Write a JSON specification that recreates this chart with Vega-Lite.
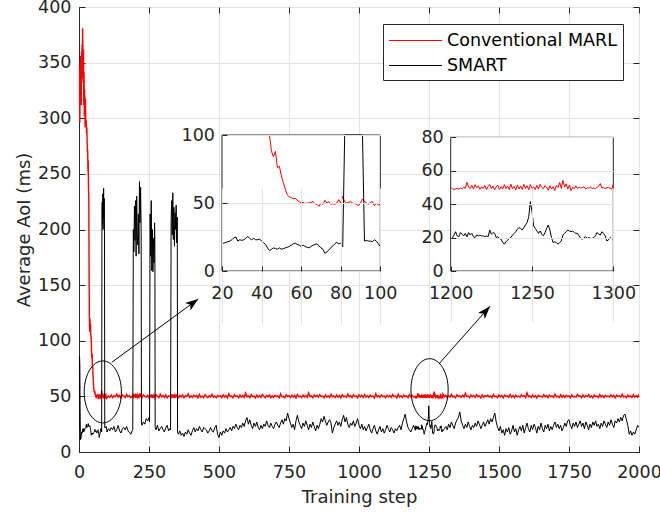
{
"$schema": "https://vega.github.io/schema/vega-lite/v6.json",
"width": 560, "height": 445,
"autosize": {"type": "none"},
"padding": {"left": 79, "top": 7, "right": 21, "bottom": 61},
"background": "white",
"config": {
  "font": "DejaVu Sans",
  "view": {"stroke": "#262626", "strokeWidth": 1},
  "axis": {"labelFont": "DejaVu Sans", "labelFontSize": 17.5, "labelColor": "#262626", "titleFont": "DejaVu Sans", "titleFontSize": 18, "titleFontWeight": "normal", "titleColor": "#262626", "domainColor": "#262626", "tickColor": "#262626", "gridColor": "#e3e3e3", "labelFlush": false, "labelOverlap": false, "labelBound": false, "tickSize": -6, "domainWidth": 1, "tickWidth": 1, "format": "d"}
},
"datasets": {"d": [
{"t":0,"r":300,"b":20},{"t":1,"r":330,"b":60},{"t":2,"r":345,"b":86},{"t":3,"r":296,"b":78},{"t":4,"r":350,"b":40},{"t":5,"r":322,"b":11},{"t":6,"r":356,"b":13},{"t":7,"r":340,"b":12},{"t":8,"r":312,"b":16},{"t":9,"r":360,"b":15},
{"t":10,"r":336,"b":18},{"t":11,"r":366,"b":17},{"t":12,"r":348,"b":19},{"t":13,"r":381,"b":18},{"t":14,"r":352,"b":21},{"t":15,"r":332,"b":19},{"t":16,"r":362,"b":20},{"t":17,"r":312,"b":18},{"t":18,"r":342,"b":21},{"t":19,"r":302,"b":19},
{"t":20,"r":326,"b":20},{"t":21,"r":310,"b":20.5},{"t":22,"r":292,"b":21},{"t":23,"r":318,"b":21.5},{"t":24,"r":300,"b":22},{"t":25,"r":296,"b":23},{"t":26,"r":298,"b":24.5},{"t":27,"r":286,"b":25},{"t":28,"r":292,"b":22},{"t":29,"r":280,"b":23},
{"t":30,"r":270,"b":22.5},{"t":31,"r":272,"b":23},{"t":32,"r":252,"b":24},{"t":33,"r":262,"b":25.5},{"t":34,"r":236,"b":24},{"t":35,"r":230,"b":23},{"t":36,"r":160,"b":24},{"t":37,"r":122,"b":23},{"t":38,"r":108,"b":23},{"t":39,"r":120,"b":23.5},
{"t":40,"r":112,"b":22},{"t":41,"r":115,"b":21},{"t":42,"r":106,"b":19.5},{"t":43,"r":103,"b":17},{"t":44,"r":100,"b":15},{"t":45,"r":88,"b":16},{"t":46,"r":84,"b":17},{"t":47,"r":88,"b":16.5},{"t":48,"r":76,"b":16},{"t":49,"r":77,"b":17},
{"t":50,"r":70,"b":16},{"t":51,"r":65,"b":16.5},{"t":52,"r":60,"b":17},{"t":53,"r":56,"b":17.5},{"t":54,"r":54.5,"b":18},{"t":55,"r":54,"b":19},{"t":56,"r":53,"b":20},{"t":57,"r":53.5,"b":20.5},{"t":58,"r":52,"b":19.5},{"t":59,"r":51,"b":19},
{"t":60,"r":50,"b":18},{"t":61,"r":50.5,"b":19},{"t":62,"r":49.5,"b":18},{"t":63,"r":50,"b":17.5},{"t":64,"r":50,"b":17},{"t":65,"r":50.5,"b":18},{"t":66,"r":51,"b":19},{"t":67,"r":49.5,"b":19.5},{"t":68,"r":49,"b":20},{"t":69,"r":47.5,"b":18.5},
{"t":70,"r":50,"b":17},{"t":71,"r":49,"b":16},{"t":72,"r":52,"b":13},{"t":73,"r":50,"b":14},{"t":74,"r":51,"b":15.5},{"t":75,"r":49,"b":17},{"t":76,"r":49.5,"b":18.5},{"t":77,"r":49,"b":20},{"t":78,"r":50,"b":21},{"t":79,"r":52.5,"b":20},
{"t":80,"r":50,"b":20.5},{"t":81,"r":55,"b":18},{"t":82,"r":51,"b":215},{"t":83,"r":50,"b":225},{"t":84,"r":50.5,"b":205},{"t":85,"r":51,"b":232},{"t":86,"r":50,"b":200},{"t":87,"r":49.5,"b":222},{"t":88,"r":49,"b":237},{"t":89,"r":48,"b":210},
{"t":90,"r":50,"b":228},{"t":91,"r":53,"b":205},{"t":92,"r":51,"b":22},{"t":93,"r":50,"b":22.5},{"t":94,"r":49,"b":22},{"t":95,"r":50.5,"b":22},{"t":96,"r":51,"b":21.5},{"t":97,"r":48,"b":23},{"t":98,"r":50,"b":22},{"t":99,"r":48.5,"b":20},
{"t":100,"r":49,"b":18},
{"t":105,"r":50.4,"b":21},{"t":110,"r":49.1,"b":19},{"t":115,"r":51.2,"b":22},{"t":120,"r":48.8,"b":20},{"t":125,"r":50.6,"b":23},{"t":130,"r":49.7,"b":18},{"t":135,"r":52.1,"b":20},{"t":140,"r":49.3,"b":24},{"t":145,"r":50.9,"b":19},{"t":150,"r":48.6,"b":17},
{"t":155,"r":51.4,"b":21},{"t":160,"r":50.2,"b":22},{"t":165,"r":49.0,"b":20},{"t":170,"r":51.8,"b":23},{"t":175,"r":49.5,"b":19},{"t":180,"r":50.7,"b":18},{"t":185,"r":48.9,"b":16},{"t":190,"r":50.3,"b":19},{"t":192,"r":49.8,"b":20},
{"t":194,"r":51.1,"b":200},{"t":196,"r":49.4,"b":180},{"t":198,"r":50.8,"b":221},{"t":200,"r":49.9,"b":190},{"t":202,"r":52.4,"b":226},{"t":204,"r":48.8,"b":176},{"t":206,"r":50.5,"b":230},{"t":208,"r":49.2,"b":195},{"t":210,"r":51.6,"b":186},{"t":212,"r":50.1,"b":214},
{"t":214,"r":48.5,"b":178},{"t":216,"r":51.0,"b":243},{"t":218,"r":49.6,"b":206},{"t":220,"r":52.8,"b":238},{"t":222,"r":49.3,"b":198},{"t":223,"r":50.6,"b":26},{"t":225,"r":48.9,"b":24},{"t":230,"r":51.3,"b":27},{"t":235,"r":50.0,"b":25},{"t":240,"r":49.4,"b":30},
{"t":245,"r":50.9,"b":28},{"t":250,"r":48.7,"b":31},{"t":252,"r":51.5,"b":27},{"t":254,"r":49.8,"b":214},{"t":256,"r":50.4,"b":176},{"t":258,"r":48.9,"b":226},{"t":260,"r":51.7,"b":163},{"t":262,"r":49.6,"b":200},{"t":264,"r":50.2,"b":162},{"t":266,"r":48.6,"b":192},
{"t":268,"r":51.1,"b":170},{"t":270,"r":49.9,"b":206},{"t":271,"r":50.5,"b":186},{"t":272,"r":49.2,"b":22},{"t":275,"r":51.4,"b":20},{"t":280,"r":50.1,"b":24},{"t":285,"r":48.8,"b":19},{"t":290,"r":52.0,"b":21},{"t":295,"r":49.5,"b":23},{"t":300,"r":50.7,"b":20},
{"t":305,"r":49.0,"b":18},{"t":310,"r":51.2,"b":22},{"t":315,"r":48.7,"b":24},{"t":320,"r":50.5,"b":19},{"t":325,"r":49.8,"b":21},{"t":327,"r":51.0,"b":20},{"t":329,"r":49.3,"b":208},{"t":331,"r":50.6,"b":226},{"t":333,"r":48.9,"b":195},{"t":335,"r":51.9,"b":233},
{"t":337,"r":49.7,"b":191},{"t":339,"r":50.3,"b":220},{"t":341,"r":48.6,"b":185},{"t":343,"r":51.2,"b":215},{"t":345,"r":49.9,"b":200},{"t":347,"r":50.8,"b":222},{"t":349,"r":49.1,"b":188},{"t":351,"r":51.5,"b":211},{"t":352,"r":50.2,"b":18},{"t":355,"r":48.8,"b":16},
{"t":360,"r":50.9,"b":19},{"t":365,"r":49.4,"b":15},{"t":370,"r":51.3,"b":17},{"t":375,"r":48.7,"b":14},{"t":380,"r":50.6,"b":18},{"t":385,"r":49.9,"b":16},{"t":390,"r":52.2,"b":20},{"t":395,"r":49.0,"b":17},{"t":400,"r":50.5,"b":15},{"t":405,"r":48.9,"b":19},
{"t":410,"r":51.1,"b":22},{"t":415,"r":49.6,"b":18},{"t":420,"r":50.8,"b":21},{"t":425,"r":48.6,"b":19},{"t":430,"r":51.7,"b":23},{"t":435,"r":49.3,"b":20},{"t":440,"r":50.2,"b":18},{"t":445,"r":49.0,"b":22},{"t":450,"r":51.5,"b":21},{"t":455,"r":50.1,"b":20},
{"t":460,"r":48.8,"b":17},{"t":465,"r":50.7,"b":19},{"t":470,"r":49.5,"b":22},{"t":475,"r":51.9,"b":19},{"t":480,"r":49.2,"b":18},{"t":485,"r":50.4,"b":22},{"t":490,"r":48.7,"b":24},{"t":495,"r":51.0,"b":16},{"t":500,"r":49.8,"b":13},{"t":505,"r":50.6,"b":18},
{"t":510,"r":48.9,"b":15},{"t":515,"r":51.3,"b":19},{"t":520,"r":49.4,"b":17},{"t":525,"r":50.9,"b":21},{"t":530,"r":48.6,"b":18},{"t":535,"r":52.5,"b":20},{"t":540,"r":49.7,"b":22},{"t":545,"r":50.2,"b":19},{"t":550,"r":48.8,"b":23},{"t":555,"r":51.4,"b":21},
{"t":560,"r":49.9,"b":25},{"t":565,"r":50.5,"b":22},{"t":570,"r":48.7,"b":20},{"t":575,"r":51.1,"b":24},{"t":580,"r":49.3,"b":22},{"t":585,"r":50.8,"b":26},{"t":590,"r":49.0,"b":23},{"t":595,"r":53.0,"b":28},{"t":600,"r":49.6,"b":31},{"t":605,"r":50.4,"b":25},
{"t":610,"r":48.9,"b":29},{"t":615,"r":51.6,"b":24},{"t":620,"r":49.8,"b":21},{"t":625,"r":50.3,"b":26},{"t":630,"r":48.6,"b":23},{"t":635,"r":51.2,"b":27},{"t":640,"r":49.4,"b":22},{"t":645,"r":50.7,"b":20},{"t":650,"r":49.1,"b":24},{"t":655,"r":51.8,"b":21},
{"t":660,"r":50.0,"b":25},{"t":665,"r":48.8,"b":23},{"t":670,"r":50.9,"b":28},{"t":675,"r":49.5,"b":24},{"t":680,"r":51.3,"b":22},{"t":685,"r":48.9,"b":26},{"t":690,"r":50.6,"b":23},{"t":695,"r":49.2,"b":21},{"t":700,"r":51.0,"b":25},{"t":705,"r":49.7,"b":27},
{"t":710,"r":50.4,"b":24},{"t":715,"r":48.7,"b":22},{"t":720,"r":52.3,"b":26},{"t":725,"r":49.6,"b":29},{"t":730,"r":50.1,"b":25},{"t":735,"r":48.8,"b":30},{"t":740,"r":51.4,"b":28},{"t":745,"r":49.9,"b":35},{"t":750,"r":50.6,"b":30},{"t":755,"r":49.0,"b":26},
{"t":760,"r":51.1,"b":22},{"t":765,"r":49.4,"b":25},{"t":770,"r":50.8,"b":20},{"t":775,"r":48.6,"b":28},{"t":780,"r":51.7,"b":33},{"t":785,"r":49.8,"b":27},{"t":790,"r":50.3,"b":24},{"t":795,"r":48.9,"b":21},{"t":800,"r":51.2,"b":26},{"t":805,"r":49.5,"b":23},
{"t":810,"r":50.7,"b":28},{"t":815,"r":49.1,"b":24},{"t":820,"r":53.1,"b":20},{"t":825,"r":49.7,"b":25},{"t":830,"r":50.4,"b":22},{"t":835,"r":48.8,"b":27},{"t":840,"r":51.0,"b":23},{"t":845,"r":49.6,"b":19},{"t":850,"r":50.9,"b":24},{"t":855,"r":49.2,"b":21},
{"t":860,"r":51.5,"b":25},{"t":865,"r":49.9,"b":30},{"t":870,"r":50.2,"b":27},{"t":875,"r":48.7,"b":32},{"t":880,"r":51.3,"b":28},{"t":885,"r":49.4,"b":24},{"t":890,"r":50.6,"b":27},{"t":895,"r":49.0,"b":29},{"t":900,"r":51.8,"b":26},{"t":905,"r":49.7,"b":17},
{"t":910,"r":50.5,"b":22},{"t":915,"r":48.9,"b":25},{"t":920,"r":51.1,"b":28},{"t":925,"r":49.3,"b":24},{"t":930,"r":50.8,"b":27},{"t":935,"r":48.6,"b":23},{"t":940,"r":51.6,"b":29},{"t":945,"r":49.8,"b":33},{"t":950,"r":50.3,"b":27},{"t":955,"r":49.1,"b":31},
{"t":960,"r":52.0,"b":25},{"t":965,"r":49.5,"b":22},{"t":970,"r":50.7,"b":26},{"t":975,"r":48.8,"b":24},{"t":980,"r":51.2,"b":28},{"t":985,"r":49.9,"b":23},{"t":990,"r":50.4,"b":26},{"t":995,"r":48.7,"b":30},{"t":1000,"r":51.4,"b":24},{"t":1005,"r":49.6,"b":21},
{"t":1010,"r":50.9,"b":25},{"t":1015,"r":49.0,"b":20},{"t":1020,"r":51.7,"b":23},{"t":1025,"r":49.3,"b":19},{"t":1030,"r":50.6,"b":22},{"t":1035,"r":48.9,"b":25},{"t":1040,"r":51.0,"b":20},{"t":1045,"r":49.7,"b":17},{"t":1050,"r":50.2,"b":21},{"t":1055,"r":48.6,"b":24},
{"t":1060,"r":52.6,"b":19},{"t":1065,"r":49.4,"b":16},{"t":1070,"r":50.8,"b":20},{"t":1075,"r":49.1,"b":23},{"t":1080,"r":51.3,"b":18},{"t":1085,"r":49.8,"b":21},{"t":1090,"r":50.5,"b":17},{"t":1095,"r":48.8,"b":20},{"t":1100,"r":51.1,"b":24},{"t":1105,"r":49.5,"b":21},
{"t":1110,"r":50.7,"b":18},{"t":1115,"r":49.2,"b":22},{"t":1120,"r":51.6,"b":20},{"t":1125,"r":49.9,"b":17},{"t":1130,"r":50.3,"b":21},{"t":1135,"r":48.7,"b":19},{"t":1140,"r":51.9,"b":22},{"t":1145,"r":49.4,"b":24},{"t":1150,"r":50.6,"b":20},{"t":1155,"r":49.0,"b":26},
{"t":1160,"r":51.2,"b":30},{"t":1165,"r":49.7,"b":34},{"t":1170,"r":50.4,"b":27},{"t":1175,"r":48.9,"b":22},{"t":1180,"r":51.5,"b":20},{"t":1185,"r":49.6,"b":18},{"t":1190,"r":50.8,"b":21},{"t":1195,"r":49.3,"b":24},
{"t":1200,"r":50.0,"b":20.5},{"t":1201,"r":49.2,"b":19.5},{"t":1202,"r":48.8,"b":21.5},{"t":1203,"r":49.1,"b":23.5},{"t":1204,"r":49.4,"b":21},{"t":1205,"r":49.0,"b":20.5},{"t":1206,"r":49.6,"b":23},{"t":1207,"r":49.3,"b":22},{"t":1208,"r":50.1,"b":21},{"t":1209,"r":49.5,"b":22.5},
{"t":1210,"r":53.0,"b":20.5},{"t":1211,"r":50.2,"b":23},{"t":1212,"r":49.4,"b":21.5},{"t":1213,"r":51.3,"b":22.5},{"t":1214,"r":49.1,"b":20.5},{"t":1215,"r":51.6,"b":20},{"t":1216,"r":49.8,"b":21.5},{"t":1217,"r":51.0,"b":21},{"t":1218,"r":48.9,"b":21.5},{"t":1219,"r":50.4,"b":21},
{"t":1220,"r":49.3,"b":21},{"t":1221,"r":51.2,"b":20.5},{"t":1222,"r":48.7,"b":21},{"t":1223,"r":50.6,"b":20.5},{"t":1224,"r":51.8,"b":24.5},{"t":1225,"r":49.2,"b":22},{"t":1226,"r":50.9,"b":23},{"t":1227,"r":48.6,"b":22.5},{"t":1228,"r":50.3,"b":20},{"t":1229,"r":51.4,"b":20.5},
{"t":1230,"r":48.8,"b":19.5},{"t":1231,"r":50.5,"b":19},{"t":1232,"r":49.0,"b":17},{"t":1233,"r":51.7,"b":16},{"t":1234,"r":49.3,"b":17.5},{"t":1235,"r":50.8,"b":18.5},{"t":1236,"r":48.7,"b":19.5},{"t":1237,"r":51.9,"b":20},{"t":1238,"r":49.2,"b":21.5},{"t":1239,"r":50.6,"b":22.5},
{"t":1240,"r":48.5,"b":23.5},{"t":1241,"r":51.5,"b":25},{"t":1242,"r":49.0,"b":26},{"t":1243,"r":50.9,"b":25.5},{"t":1244,"r":48.8,"b":24.5},{"t":1245,"r":51.8,"b":26},{"t":1246,"r":49.3,"b":27.5},{"t":1247,"r":51.0,"b":29},{"t":1248,"r":48.6,"b":32.5},{"t":1249,"r":51.7,"b":41.5},
{"t":1250,"r":49.4,"b":35.5},{"t":1251,"r":50.3,"b":27},{"t":1252,"r":48.7,"b":25.5},{"t":1253,"r":51.2,"b":24},{"t":1254,"r":49.0,"b":22.5},{"t":1255,"r":51.9,"b":24},{"t":1256,"r":50.1,"b":22},{"t":1257,"r":49.2,"b":21},{"t":1258,"r":51.1,"b":23},{"t":1259,"r":50.2,"b":25.5},
{"t":1260,"r":48.3,"b":27.5},{"t":1261,"r":51.0,"b":24.5},{"t":1262,"r":49.1,"b":20},{"t":1263,"r":50.4,"b":17},{"t":1264,"r":48.2,"b":17.5},{"t":1265,"r":51.2,"b":17},{"t":1266,"r":50.0,"b":16},{"t":1267,"r":53.0,"b":17},{"t":1268,"r":49.4,"b":18},{"t":1269,"r":54.3,"b":21.5},
{"t":1270,"r":50.2,"b":22.5},{"t":1271,"r":52.2,"b":23.5},{"t":1272,"r":49.0,"b":24.5},{"t":1273,"r":51.4,"b":24},{"t":1274,"r":48.2,"b":23.5},{"t":1275,"r":50.1,"b":24},{"t":1276,"r":49.2,"b":23},{"t":1277,"r":51.0,"b":22.5},{"t":1278,"r":49.4,"b":22.5},{"t":1279,"r":50.2,"b":21},
{"t":1280,"r":49.6,"b":19.5},{"t":1281,"r":50.0,"b":19},{"t":1282,"r":50.3,"b":20},{"t":1283,"r":49.1,"b":20.5},{"t":1284,"r":49.8,"b":19.5},{"t":1285,"r":49.5,"b":20},{"t":1286,"r":50.4,"b":19.5},{"t":1287,"r":49.2,"b":19.5},{"t":1288,"r":49.7,"b":20},{"t":1289,"r":49.3,"b":21},
{"t":1290,"r":50.0,"b":23},{"t":1291,"r":50.8,"b":22},{"t":1292,"r":52.3,"b":21.5},{"t":1293,"r":49.6,"b":23.5},{"t":1294,"r":50.0,"b":22.5},{"t":1295,"r":49.2,"b":21},{"t":1296,"r":49.8,"b":18},{"t":1297,"r":50.1,"b":18.5},{"t":1298,"r":49.5,"b":20},{"t":1299,"r":49.0,"b":19.5},
{"t":1300,"r":52.0,"b":19},
{"t":1305,"r":49.7,"b":21},{"t":1310,"r":51.1,"b":23},{"t":1315,"r":48.9,"b":20},{"t":1320,"r":50.6,"b":25},{"t":1325,"r":49.3,"b":22},{"t":1330,"r":51.8,"b":27},{"t":1335,"r":49.5,"b":24},{"t":1340,"r":50.2,"b":21},{"t":1345,"r":48.7,"b":26},{"t":1350,"r":51.4,"b":29},
{"t":1355,"r":49.9,"b":31},{"t":1360,"r":50.6,"b":36},{"t":1365,"r":49.1,"b":28},{"t":1370,"r":51.0,"b":24},{"t":1375,"r":49.4,"b":21},{"t":1380,"r":52.9,"b":25},{"t":1385,"r":49.8,"b":22},{"t":1390,"r":50.3,"b":27},{"t":1395,"r":48.8,"b":23},{"t":1400,"r":51.2,"b":20},
{"t":1405,"r":49.6,"b":24},{"t":1410,"r":50.7,"b":22},{"t":1415,"r":49.0,"b":26},{"t":1420,"r":51.5,"b":23},{"t":1425,"r":49.7,"b":28},{"t":1430,"r":50.4,"b":25},{"t":1435,"r":48.6,"b":21},{"t":1440,"r":51.3,"b":24},{"t":1445,"r":49.2,"b":27},{"t":1450,"r":50.8,"b":23},
{"t":1455,"r":49.9,"b":26},{"t":1460,"r":51.1,"b":29},{"t":1465,"r":49.4,"b":25},{"t":1470,"r":50.5,"b":30},{"t":1475,"r":48.9,"b":27},{"t":1480,"r":51.6,"b":31},{"t":1485,"r":49.8,"b":35},{"t":1490,"r":50.2,"b":27},{"t":1495,"r":49.0,"b":22},{"t":1500,"r":51.4,"b":19},
{"t":1505,"r":49.5,"b":23},{"t":1510,"r":50.9,"b":17},{"t":1515,"r":48.7,"b":20},{"t":1520,"r":51.2,"b":15},{"t":1525,"r":49.9,"b":21},{"t":1530,"r":50.4,"b":18},{"t":1535,"r":49.1,"b":22},{"t":1540,"r":51.7,"b":16},{"t":1545,"r":49.3,"b":19},{"t":1550,"r":50.8,"b":24},
{"t":1555,"r":48.8,"b":18},{"t":1560,"r":51.0,"b":21},{"t":1565,"r":49.6,"b":15},{"t":1570,"r":50.3,"b":20},{"t":1575,"r":49.2,"b":23},{"t":1580,"r":51.5,"b":19},{"t":1585,"r":49.8,"b":24},{"t":1590,"r":50.6,"b":17},{"t":1595,"r":48.9,"b":22},{"t":1600,"r":53.3,"b":26},
{"t":1605,"r":49.7,"b":21},{"t":1610,"r":50.5,"b":18},{"t":1615,"r":49.0,"b":24},{"t":1620,"r":51.3,"b":20},{"t":1625,"r":49.4,"b":25},{"t":1630,"r":50.7,"b":22},{"t":1635,"r":48.6,"b":17},{"t":1640,"r":51.1,"b":23},{"t":1645,"r":49.9,"b":20},{"t":1650,"r":50.2,"b":26},
{"t":1655,"r":49.3,"b":21},{"t":1660,"r":51.6,"b":18},{"t":1665,"r":49.5,"b":24},{"t":1670,"r":50.9,"b":21},{"t":1675,"r":48.8,"b":25},{"t":1680,"r":51.2,"b":19},{"t":1685,"r":49.7,"b":23},{"t":1690,"r":50.4,"b":20},{"t":1695,"r":49.1,"b":24},{"t":1700,"r":51.8,"b":27},
{"t":1705,"r":49.6,"b":22},{"t":1710,"r":50.3,"b":25},{"t":1715,"r":48.9,"b":21},{"t":1720,"r":51.4,"b":24},{"t":1725,"r":49.2,"b":19},{"t":1730,"r":50.8,"b":22},{"t":1735,"r":49.0,"b":26},{"t":1740,"r":51.0,"b":23},{"t":1745,"r":49.8,"b":28},{"t":1750,"r":50.6,"b":29},
{"t":1755,"r":48.7,"b":24},{"t":1760,"r":51.3,"b":21},{"t":1765,"r":49.5,"b":26},{"t":1770,"r":50.1,"b":23},{"t":1775,"r":49.4,"b":27},{"t":1780,"r":51.7,"b":22},{"t":1785,"r":49.9,"b":25},{"t":1790,"r":50.5,"b":28},{"t":1795,"r":48.8,"b":23},{"t":1800,"r":51.1,"b":26},
{"t":1805,"r":49.3,"b":21},{"t":1810,"r":50.7,"b":27},{"t":1815,"r":49.6,"b":24},{"t":1820,"r":51.5,"b":20},{"t":1825,"r":49.1,"b":25},{"t":1830,"r":50.4,"b":22},{"t":1835,"r":48.6,"b":27},{"t":1840,"r":51.2,"b":24},{"t":1845,"r":49.8,"b":28},{"t":1850,"r":50.2,"b":23},
{"t":1855,"r":49.0,"b":25},{"t":1860,"r":51.6,"b":21},{"t":1865,"r":49.4,"b":26},{"t":1870,"r":50.9,"b":23},{"t":1875,"r":48.9,"b":28},{"t":1880,"r":51.0,"b":25},{"t":1885,"r":49.7,"b":22},{"t":1890,"r":50.3,"b":27},{"t":1895,"r":49.2,"b":24},{"t":1900,"r":51.4,"b":29},
{"t":1905,"r":49.6,"b":25},{"t":1910,"r":50.8,"b":22},{"t":1915,"r":48.7,"b":28},{"t":1920,"r":51.1,"b":26},{"t":1925,"r":49.9,"b":30},{"t":1930,"r":50.5,"b":27},{"t":1935,"r":49.3,"b":31},{"t":1940,"r":51.8,"b":28},{"t":1945,"r":49.5,"b":33},{"t":1950,"r":50.2,"b":34},
{"t":1955,"r":48.8,"b":29},{"t":1960,"r":51.3,"b":24},{"t":1965,"r":49.7,"b":16},{"t":1970,"r":50.6,"b":19},{"t":1975,"r":49.0,"b":15},{"t":1980,"r":51.5,"b":18},{"t":1985,"r":49.4,"b":16},{"t":1990,"r":50.8,"b":20},{"t":1995,"r":49.2,"b":24},{"t":2000,"r":51.9,"b":22}
]},
"layer": [
  {
    "layer": [
      {
        "data": {"name": "d"},
        "mark": {"type": "line", "strokeWidth": 1.4, "clip": true},
        "encoding": {
          "x": {"field": "t", "type": "quantitative", "scale": {"domain": [0, 2000], "nice": false, "zero": false},
                "axis": {"orient": "bottom", "values": [0,250,500,750,1000,1250,1500,1750,2000], "title": "Training step", "grid": true, "labelPadding": 17, "titlePadding": 8}},
          "y": {"field": "r", "type": "quantitative", "scale": {"domain": [0, 400], "nice": false},
                "axis": {"orient": "left", "values": [0,50,100,150,200,250,300,350,400], "title": "Average AoI (ms)", "grid": true, "labelPadding": 14, "titlePadding": 4}},
          "color": {"datum": "Conventional MARL", "type": "nominal",
                    "scale": {"domain": ["Conventional MARL", "SMART"], "range": ["#ff0000", "#000000"]},
                    "legend": {"orient": "none", "legendX": 304, "legendY": 17, "title": null, "symbolType": "M-2.65,0H2.65", "symbolSize": 400, "symbolStrokeWidth": 1, "symbolOffset": 16, "labelOffset": 21, "labelFontSize": 17.5, "labelFont": "DejaVu Sans", "labelColor": "#000000", "labelLimit": 0, "strokeColor": "#262626", "fillColor": "white", "padding": 6, "rowPadding": 6}}
        }
      },
      {
        "data": {"name": "d"},
        "mark": {"type": "line", "strokeWidth": 1, "clip": true},
        "encoding": {
          "x": {"field": "t", "type": "quantitative", "axis": null},
          "y": {"field": "b", "type": "quantitative", "axis": null},
          "color": {"datum": "SMART", "type": "nominal"}
        }
      },
      {
        "data": {"values": [{"t": 85, "v": 54}, {"t": 1252, "v": 56}]},
        "mark": {"type": "point", "shape": "M-0.6,0A0.6,1 0 1,0 0.6,0A0.6,1 0 1,0 -0.6,0Z", "size": 3844, "filled": false, "stroke": "#000000", "strokeWidth": 1, "opacity": 1},
        "encoding": {
          "x": {"field": "t", "type": "quantitative", "axis": {"orient": "top", "values": [0,250,500,750,1000,1250,1500,1750,2000], "labels": false, "grid": false, "domain": false, "title": null}},
          "y": {"field": "v", "type": "quantitative", "axis": {"orient": "right", "values": [0,50,100,150,200,250,300,350,400], "labels": false, "grid": false, "domain": false, "title": null}}
        }
      },
      {
        "data": {"values": [{"t": 117, "v": 80.6, "t2": 426, "v2": 137.5}, {"t": 1287, "v": 79.7, "t2": 1468, "v2": 131}]},
        "mark": {"type": "rule", "color": "#000000", "strokeWidth": 1},
        "encoding": {
          "x": {"field": "t", "type": "quantitative", "axis": null},
          "y": {"field": "v", "type": "quantitative", "axis": null},
          "x2": {"field": "t2"},
          "y2": {"field": "v2"}
        }
      },
      {
        "data": {"values": [{"t": 426, "v": 137.5}]},
        "mark": {"type": "point", "shape": "M0,0L-2,-0.7L-1.5,0L-2,0.7Z", "size": 169, "filled": true, "color": "#000000", "opacity": 1, "angle": 323.8},
        "encoding": {
          "x": {"field": "t", "type": "quantitative", "axis": null},
          "y": {"field": "v", "type": "quantitative", "axis": null}
        }
      },
      {
        "data": {"values": [{"t": 1468, "v": 131}]},
        "mark": {"type": "point", "shape": "M0,0L-2,-0.7L-1.5,0L-2,0.7Z", "size": 169, "filled": true, "color": "#000000", "opacity": 1, "angle": 311.6},
        "encoding": {
          "x": {"field": "t", "type": "quantitative", "axis": null},
          "y": {"field": "v", "type": "quantitative", "axis": null}
        }
      }
    ],
    "resolve": {"axis": {"x": "independent", "y": "independent"}}
  },
  {
    "layer": [
      {
        "data": {"values": [{"a": 20, "a2": 100, "c": 0, "c2": 100}]},
        "mark": {"type": "rect", "fill": "white", "stroke": "#262626", "strokeWidth": 1},
        "encoding": {
          "x": {"field": "a", "type": "quantitative", "scale": {"domain": [20, 100], "range": [143, 301.3], "nice": false, "zero": false},
                "axis": {"orient": "bottom", "offset": -181, "values": [20,40,60,80,100], "title": null, "grid": true, "zindex": 1, "domain": false, "labelPadding": 18.5, "tickSize": -5}},
          "x2": {"field": "a2"},
          "y": {"field": "c", "type": "quantitative", "scale": {"domain": [0, 100], "range": [264, 128], "nice": false, "clamp": true},
                "axis": {"orient": "left", "offset": -143, "values": [0,50,100], "title": null, "grid": true, "zindex": 1, "domain": false, "labelPadding": 12.5, "tickSize": -5}},
          "y2": {"field": "c2"}
        }
      },
      {
        "data": {"name": "d"},
        "transform": [{"filter": "datum.t >= 44 && datum.t <= 100"}],
        "mark": {"type": "line", "color": "#ff0000", "strokeWidth": 1},
        "encoding": {"x": {"field": "t", "type": "quantitative"}, "y": {"field": "r", "type": "quantitative"}}
      },
      {
        "data": {"name": "d"},
        "transform": [{"filter": "datum.t >= 20 && datum.t <= 100"}],
        "mark": {"type": "line", "color": "#000000", "strokeWidth": 1},
        "encoding": {"x": {"field": "t", "type": "quantitative"}, "y": {"field": "b", "type": "quantitative"}}
      }
    ]
  },
  {
    "layer": [
      {
        "data": {"values": [{"a": 1200, "a2": 1300, "c": 0, "c2": 80}]},
        "mark": {"type": "rect", "fill": "white", "stroke": "#262626", "strokeWidth": 1},
        "encoding": {
          "x": {"field": "a", "type": "quantitative", "scale": {"domain": [1200, 1300], "range": [371.7, 534.3], "nice": false, "zero": false},
                "axis": {"orient": "bottom", "offset": -181, "values": [1200,1250,1300], "title": null, "grid": true, "zindex": 1, "domain": false, "labelPadding": 18.5, "tickSize": -5}},
          "x2": {"field": "a2"},
          "y": {"field": "c", "type": "quantitative", "scale": {"domain": [0, 80], "range": [264, 130.3], "nice": false},
                "axis": {"orient": "left", "offset": -371.7, "values": [0,20,40,60,80], "title": null, "grid": true, "zindex": 1, "domain": false, "labelPadding": 12.5, "tickSize": -5}},
          "y2": {"field": "c2"}
        }
      },
      {
        "data": {"name": "d"},
        "transform": [{"filter": "datum.t >= 1200 && datum.t <= 1300"}],
        "mark": {"type": "line", "color": "#ff0000", "strokeWidth": 1},
        "encoding": {"x": {"field": "t", "type": "quantitative"}, "y": {"field": "r", "type": "quantitative"}}
      },
      {
        "data": {"name": "d"},
        "transform": [{"filter": "datum.t >= 1200 && datum.t <= 1300"}],
        "mark": {"type": "line", "color": "#000000", "strokeWidth": 1},
        "encoding": {"x": {"field": "t", "type": "quantitative"}, "y": {"field": "b", "type": "quantitative"}}
      }
    ]
  }
],
"resolve": {"scale": {"x": "independent", "y": "independent"}, "axis": {"x": "independent", "y": "independent"}}
}
